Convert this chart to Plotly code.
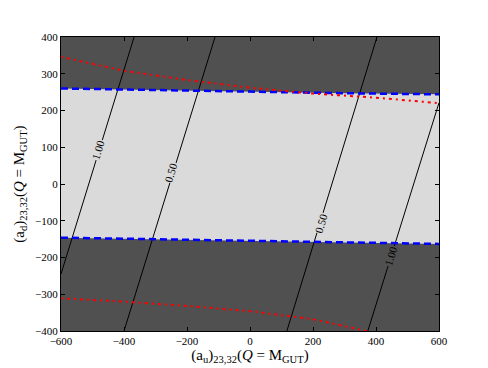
import plotly.graph_objects as go

DARK = "#505050"
LIGHT = "#dadada"
BLUE = "#0000ff"
RED = "#ff0000"
FONT = "Liberation Serif, DejaVu Serif, serif"

# blue dashed bounds of the allowed band
blue_x = [-600, -300, 0, 300, 600]
blue_upper_y = [260, 255, 250, 247, 244]
blue_lower_y = [-146, -150, -153, -157, -163]

# red dotted bounds
red_upper_x = [-600, -400, -200, 0, 200, 400, 600]
red_upper_y = [346, 308, 283, 262, 246, 235, 220]
red_lower_x = [-600, -400, -200, 0, 200, 370]
red_lower_y = [-311, -320, -332, -346, -368, -400]

# black contour lines (two "1.00" and two "0.50" lines)
contour_lines = [
    ([-600, -368], [-245, 400]),
    ([-400, -111], [-400, 400]),
    ([117, 403], [-400, 400]),
    ([374, 600], [-400, 221]),
]
contour_labels = ["1.00", "0.50", "0.50", "1.00"]
label_x = [-483, -250, 226, 447]
label_y = [93, 32, -106, -196]
label_bg = [LIGHT, LIGHT, LIGHT, DARK]

x_ticks = [-600, -400, -200, 0, 200, 400, 600]
y_ticks = [-400, -300, -200, -100, 0, 100, 200, 300, 400]

fig = go.Figure()

# light band between the blue lines
fig.add_trace(go.Scatter(x=blue_x, y=blue_lower_y, mode="lines",
                         line=dict(color=LIGHT, width=0), hoverinfo="skip"))
fig.add_trace(go.Scatter(x=blue_x, y=blue_upper_y, mode="lines", fill="tonexty",
                         fillcolor=LIGHT, line=dict(color=LIGHT, width=0), hoverinfo="skip"))

for xs, ys in contour_lines:
    fig.add_trace(go.Scatter(x=xs, y=ys, mode="lines", line=dict(color="black", width=1)))

for ys in (blue_upper_y, blue_lower_y):
    fig.add_trace(go.Scatter(x=blue_x, y=ys, mode="lines",
                             line=dict(color=BLUE, width=2.5, dash="7px,4px")))

fig.add_trace(go.Scatter(x=red_upper_x, y=red_upper_y, mode="lines",
                         line=dict(color=RED, width=2, dash="2px,4px,3px,4px")))
fig.add_trace(go.Scatter(x=red_lower_x, y=red_lower_y, mode="lines",
                         line=dict(color=RED, width=2, dash="2px,4px,3px,4px")))

for txt, lx, ly, bg in zip(contour_labels, label_x, label_y, label_bg):
    fig.add_annotation(x=lx, y=ly, text=txt, showarrow=False, textangle=-73,
                       bgcolor=bg, font=dict(family=FONT, size=11, color="black"),
                       borderpad=0)

fig.update_layout(
    width=480, height=360,
    margin=dict(l=53, r=49, t=29, b=37),
    paper_bgcolor="white",
    plot_bgcolor=DARK,
    showlegend=False,
    font=dict(family=FONT, size=11, color="black"),
)
fig.update_xaxes(
    range=[-600, 600], tickvals=x_ticks, automargin=False,
    ticktext=[str(v).replace("-", "\u2212") for v in x_ticks],
    showgrid=False, zeroline=False, showline=True, linecolor="black", linewidth=1,
    mirror="allticks", ticks="inside", ticklen=4, tickcolor="black",
    title=dict(text="(a<sub>u</sub>)<sub>23,32</sub>(<i>Q</i> = M<sub>GUT</sub>)",
               font=dict(family=FONT, size=15), standoff=2),
)
fig.update_yaxes(
    range=[-400, 400], tickvals=y_ticks, automargin=False,
    ticktext=[str(v).replace("-", "\u2212") for v in y_ticks],
    showgrid=False, zeroline=False, showline=True, linecolor="black", linewidth=1,
    mirror="allticks", ticks="inside", ticklen=4, tickcolor="black",
    title=dict(text="(a<sub>d</sub>)<sub>23,32</sub>(<i>Q</i> = M<sub>GUT</sub>)",
               font=dict(family=FONT, size=15), standoff=6),
)

fig.write_html("out.html")
